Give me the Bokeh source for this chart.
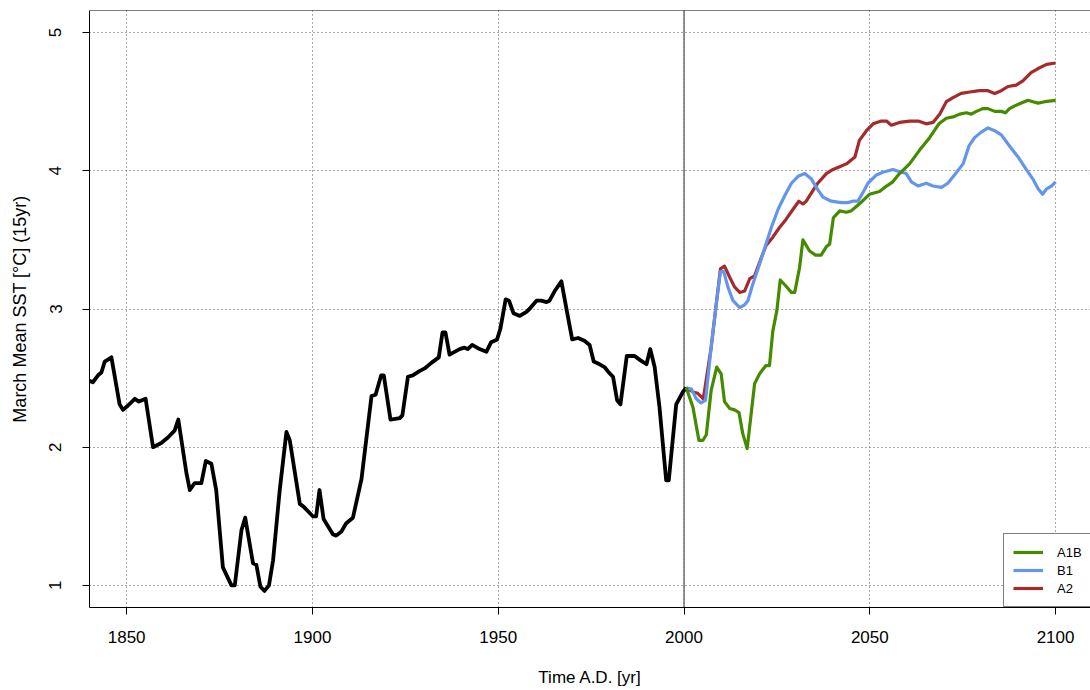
from bokeh.plotting import figure
from bokeh.models import Range1d, FixedTicker, Span, Legend, LegendItem
from bokeh.embed import file_html
from bokeh.resources import INLINE

# ---- data ----
hist_years = [1840.0, 1840.9, 1842.3, 1843.2, 1844.1, 1845.9, 1848.1, 1849.0, 1850.3, 1852.2,
              1853.3, 1855.1, 1857.1, 1859.3, 1861.1, 1862.9, 1863.9, 1866.1, 1867.0, 1868.3,
              1870.1, 1871.3, 1872.8, 1874.1, 1875.9, 1878.2, 1879.1, 1880.9, 1881.9, 1884.0,
              1884.9, 1886.0, 1887.1, 1888.3, 1889.4, 1891.2, 1893.0, 1893.9, 1896.6, 1897.6,
              1900.1, 1901.0, 1901.9, 1903.0, 1905.5, 1906.4, 1907.8, 1909.1, 1910.9, 1913.2,
              1915.9, 1917.0, 1918.5, 1919.2, 1921.0, 1923.5, 1924.2, 1925.7, 1927.0, 1928.8,
              1930.2, 1932.0, 1934.0, 1935.0, 1935.8, 1936.9, 1939.6, 1940.9, 1941.8, 1943.0,
              1945.0, 1946.8, 1948.1, 1949.7, 1950.6, 1952.0, 1952.9, 1954.1, 1955.8, 1957.6,
              1958.4, 1960.3, 1961.6, 1963.0, 1963.8, 1965.2, 1967.0, 1968.3, 1969.9, 1971.5,
              1973.2, 1974.6, 1975.7, 1977.3, 1978.6, 1979.8, 1980.9, 1982.0, 1982.9, 1984.6,
              1986.7, 1988.2, 1989.9, 1990.9, 1992.1, 1993.4, 1995.2, 1995.9, 1997.9, 1999.7,
              2000.6]
hist_sst = [2.48, 2.47, 2.52, 2.54, 2.62, 2.65, 2.31, 2.27, 2.30, 2.35,
            2.33, 2.35, 2.00, 2.03, 2.07, 2.12, 2.20, 1.81, 1.69, 1.74,
            1.74, 1.90, 1.88, 1.69, 1.13, 1.00, 1.00, 1.40, 1.49, 1.16,
            1.15, 0.99, 0.96, 1.00, 1.18, 1.69, 2.11, 2.05, 1.59, 1.57,
            1.50, 1.50, 1.69, 1.48, 1.37, 1.36, 1.39, 1.45, 1.49, 1.77,
            2.37, 2.38, 2.52, 2.52, 2.20, 2.21, 2.23, 2.51, 2.52, 2.55,
            2.57, 2.61, 2.65, 2.83, 2.83, 2.67, 2.71, 2.72, 2.71, 2.74,
            2.71, 2.69, 2.76, 2.78, 2.86, 3.07, 3.06, 2.97, 2.95, 2.98,
            3.00, 3.06, 3.06, 3.05, 3.06, 3.13, 3.20, 3.01, 2.78, 2.79,
            2.77, 2.74, 2.62, 2.60, 2.58, 2.54, 2.51, 2.34, 2.31, 2.66,
            2.66, 2.63, 2.60, 2.71, 2.58, 2.29, 1.76, 1.76, 2.31, 2.40,
            2.43]

a1b_years = [2000.6, 2002.4, 2004.0, 2005.1, 2006.0, 2007.3, 2008.8, 2010.0, 2010.9, 2012.3,
             2013.6, 2014.8, 2015.8, 2017.0, 2019.0, 2020.3, 2022.0, 2023.0, 2023.9, 2025.0,
             2025.9, 2027.3, 2028.9, 2029.8, 2031.1, 2032.0, 2033.8, 2035.4, 2036.9, 2038.3,
             2039.2, 2040.2, 2041.9, 2043.7, 2045.0, 2046.3, 2048.0, 2049.9, 2052.6, 2054.0,
             2056.2, 2058.0, 2060.7, 2063.4, 2066.1, 2068.6, 2070.6, 2072.4, 2074.2, 2076.0,
             2077.3, 2078.7, 2080.4, 2081.8, 2083.6, 2085.4, 2086.5, 2087.6, 2089.0, 2090.8,
             2092.6, 2093.9, 2095.3, 2097.1, 2100.0]
a1b_sst = [2.43, 2.29, 2.05, 2.05, 2.09, 2.41, 2.58, 2.53, 2.33, 2.28,
           2.27, 2.25, 2.10, 1.99, 2.46, 2.53, 2.59, 2.59, 2.84, 2.99,
           3.21, 3.17, 3.12, 3.12, 3.30, 3.50, 3.42, 3.39, 3.39, 3.45,
           3.47, 3.66, 3.71, 3.70, 3.71, 3.74, 3.78, 3.83, 3.85, 3.88,
           3.92, 3.98, 4.05, 4.15, 4.24, 4.34, 4.38, 4.39, 4.41, 4.42,
           4.41, 4.43, 4.45, 4.45, 4.43, 4.43, 4.42, 4.45, 4.47, 4.49,
           4.51, 4.50, 4.49, 4.50, 4.51]

b1_years = [2000.6, 2002.0, 2003.3, 2004.6, 2005.8, 2007.3, 2008.7, 2009.8, 2010.7, 2011.8,
            2013.2, 2015.0, 2016.3, 2017.2, 2018.4, 2019.9, 2021.7, 2023.5, 2025.3, 2027.1,
            2028.9, 2030.7, 2032.5, 2034.3, 2035.6, 2037.4, 2039.6, 2042.3, 2044.1, 2045.4,
            2046.8, 2048.1, 2049.5, 2051.8, 2053.5, 2056.2, 2058.5, 2059.8, 2061.2, 2063.0,
            2065.2, 2067.0, 2069.3, 2071.0, 2072.8, 2075.1, 2076.7, 2078.2, 2080.0, 2081.8,
            2083.6, 2085.4, 2087.6, 2089.9, 2092.1, 2093.9, 2095.3, 2096.5, 2097.6, 2098.9,
            2100.0]
b1_sst = [2.43, 2.42, 2.35, 2.32, 2.34, 2.72, 3.04, 3.27, 3.27, 3.16,
          3.06, 3.01, 3.03, 3.06, 3.17, 3.29, 3.44, 3.59, 3.72, 3.82,
          3.91, 3.96, 3.98, 3.94, 3.88, 3.81, 3.78, 3.77, 3.77, 3.78,
          3.78, 3.84, 3.91, 3.97, 3.99, 4.01, 3.99, 3.98, 3.92, 3.89,
          3.91, 3.89, 3.88, 3.91, 3.97, 4.05, 4.18, 4.24, 4.28, 4.31,
          4.29, 4.26, 4.18, 4.10, 4.01, 3.94, 3.87, 3.83, 3.87, 3.89,
          3.92]

a2_years = [2000.6, 2002.4, 2003.7, 2005.2, 2007.3, 2008.7, 2009.8, 2010.9, 2012.3, 2013.6,
            2015.0, 2016.3, 2017.7, 2019.0, 2020.8, 2022.1, 2023.9, 2025.7, 2027.5, 2029.3,
            2030.9, 2032.0, 2032.9, 2034.3, 2036.0, 2038.3, 2040.1, 2041.9, 2043.7, 2046.0,
            2047.2, 2049.1, 2050.9, 2053.1, 2054.5, 2055.8, 2058.0, 2060.7, 2063.0, 2065.2,
            2067.0, 2068.8, 2070.6, 2072.4, 2074.6, 2076.9, 2079.5, 2081.8, 2083.6, 2085.4,
            2087.2, 2089.4, 2091.2, 2093.4, 2095.3, 2097.6, 2100.0]
a2_sst = [2.43, 2.40, 2.39, 2.35, 2.72, 3.04, 3.29, 3.31, 3.23, 3.16,
          3.12, 3.13, 3.22, 3.24, 3.37, 3.46, 3.52, 3.59, 3.65, 3.72,
          3.78, 3.76, 3.78, 3.84, 3.91, 3.98, 4.01, 4.03, 4.05, 4.10,
          4.22, 4.29, 4.34, 4.36, 4.36, 4.33, 4.35, 4.36, 4.36, 4.34,
          4.35, 4.41, 4.50, 4.53, 4.56, 4.57, 4.58, 4.58, 4.56, 4.58,
          4.61, 4.62, 4.65, 4.71, 4.74, 4.77, 4.78]

x_ticks = [1850, 1900, 1950, 2000, 2050, 2100]
y_ticks = [1, 2, 3, 4, 5]
scenario_labels = ["A1B", "B1", "A2"]
x_title = "Time A.D. [yr]"
y_title = "March Mean SST [°C] (15yr)"

FONT = "Liberation Sans"

p = figure(width=1090, height=690,
           x_range=Range1d(1840, 2109.4), y_range=Range1d(0.84, 5.16),
           output_backend="svg", toolbar_location=None,
           min_border_left=89, min_border_right=0, min_border_top=10, min_border_bottom=83)
p.outline_line_color = None
p.background_fill_color = "white"
p.border_fill_color = "white"

p.xaxis.ticker = FixedTicker(ticks=x_ticks)
p.yaxis.ticker = FixedTicker(ticks=y_ticks)
p.xaxis.axis_label = x_title
p.yaxis.axis_label = y_title

for ax in (p.xaxis, p.yaxis):
    ax.axis_line_color = "black"
    ax.axis_line_width = 1
    ax.major_tick_line_color = "black"
    ax.major_tick_out = 7
    ax.major_tick_in = 0
    ax.minor_tick_line_color = None
    ax.major_label_text_font = FONT
    ax.major_label_text_color = "black"
    ax.axis_label_text_font = FONT
    ax.axis_label_text_font_style = "normal"
    ax.axis_label_text_color = "black"

p.xaxis.major_label_text_font_size = "17px"
p.xaxis.major_label_standoff = 16
p.xaxis.axis_label_text_font_size = "17px"
p.xaxis.axis_label_standoff = 22

p.yaxis.major_label_text_font_size = "17px"
p.yaxis.major_label_orientation = "vertical"
p.yaxis.major_label_standoff = 21
p.yaxis.axis_label_text_font_size = "18px"
p.yaxis.axis_label_standoff = 17

p.grid.grid_line_color = "#555555"
p.grid.grid_line_dash = "1 3"
p.grid.grid_line_width = 1

vline = Span(location=2000, dimension="height", line_color="#707070", line_width=1.5, level="underlay")
p.add_layout(vline)
topline = Span(location=5.16, dimension="width", line_color="black", line_width=1.2)
p.add_layout(topline)

r_hist = p.line(hist_years, hist_sst, line_color="black", line_width=3.8, line_join="round")
r_a2 = p.line(a2_years, a2_sst, line_color="#A52A2A", line_width=3.2, line_join="round")
r_b1 = p.line(b1_years, b1_sst, line_color="#6495ED", line_width=3.2, line_join="round")
r_a1b = p.line(a1b_years, a1b_sst, line_color="#458B00", line_width=3.2, line_join="round")

legend = Legend(items=[LegendItem(label=scenario_labels[0], renderers=[r_a1b]),
                       LegendItem(label=scenario_labels[1], renderers=[r_b1]),
                       LegendItem(label=scenario_labels[2], renderers=[r_a2])],
                location=(914, 0), margin=0, padding=9, spacing=0,
                glyph_width=30, glyph_height=18, label_height=18, label_standoff=14,
                label_text_font=FONT, label_text_font_size="13px", label_text_color="black",
                border_line_color="black", border_line_width=1,
                background_fill_color="white", background_fill_alpha=1.0)
p.add_layout(legend)

open("out.html", "w").write(file_html(p, INLINE, title="March Mean SST"))
